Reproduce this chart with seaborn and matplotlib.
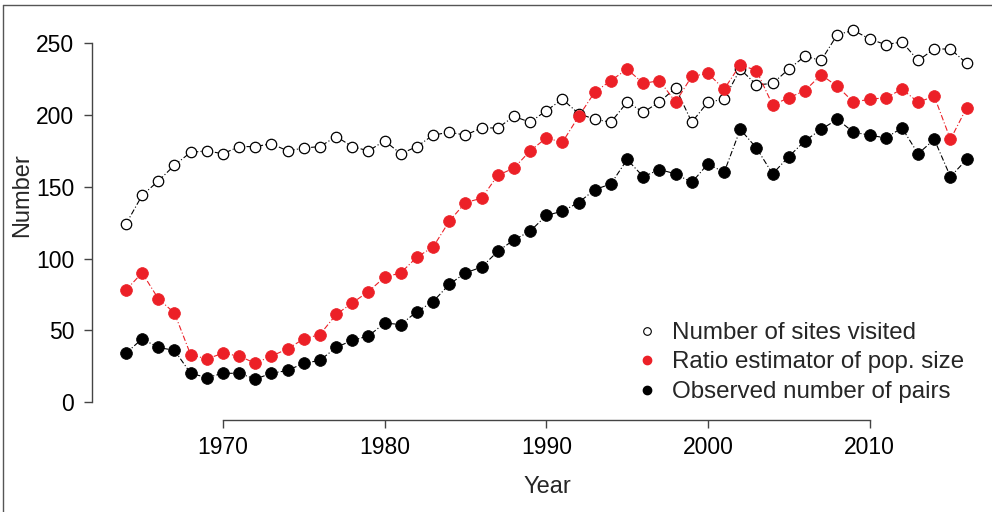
import matplotlib
matplotlib.use('Agg')
import matplotlib.pyplot as plt
import seaborn as sns
from matplotlib.lines import Line2D

years = list(range(1964, 2017))
sites_visited = [124, 144, 154, 165, 174, 175, 173, 178, 178, 180,
                 175, 177, 178, 185, 178, 175, 182, 173, 178, 186,
                 188, 186, 191, 191, 199, 195, 203, 211, 201, 197,
                 195, 209, 202, 209, 219, 195, 209, 211, 232, 221,
                 222, 232, 241, 238, 256, 259, 253, 249, 251, 238,
                 246, 246, 236]
ratio_estimator = [78, 90, 72, 62, 33, 30, 34, 32, 27, 32,
                   37, 44, 47, 61, 69, 77, 87, 90, 101, 108,
                   126, 139, 142, 158, 163, 175, 184, 181, 199, 216,
                   224, 232, 222, 224, 209, 227, 229, 218, 235, 231,
                   207, 212, 217, 228, 220, 209, 211, 212, 218, 209,
                   213, 183, 205]
observed_pairs = [34, 44, 38, 36, 20, 17, 20, 20, 16, 20,
                  22, 27, 29, 38, 43, 46, 55, 54, 63, 70,
                  82, 90, 94, 105, 113, 119, 130, 133, 139, 148,
                  152, 169, 157, 162, 159, 153, 166, 160, 190, 177,
                  159, 171, 182, 190, 197, 188, 186, 184, 191, 173,
                  183, 157, 169]
legend_labels = ['Number of sites visited', 'Ratio estimator of pop. size',
                 'Observed number of pairs']
x_ticks = [1970, 1980, 1990, 2000, 2010]
y_ticks = [0, 50, 100, 150, 200, 250]

RED = '#EC2027'

sns.set_style('ticks')
plt.rcParams['font.family'] = ['Liberation Sans', 'DejaVu Sans']

W, H = 992, 512
fig = plt.figure(figsize=(W / 100, H / 100), dpi=100)
ax = fig.add_axes([92 / W, (H - 420) / H, (W - 92) / W, (420 - 15) / H])

dash = (0, (5, 2, 1, 2))
sns.lineplot(x=years, y=sites_visited, ax=ax, color='black', linestyle=dash,
             linewidth=0.8, marker='o', markersize=7.5, markerfacecolor='white',
             markeredgecolor='black', markeredgewidth=0.9, zorder=2)
sns.lineplot(x=years, y=ratio_estimator, ax=ax, color=RED, linestyle=dash,
             linewidth=0.8, marker='o', markersize=8.5, markerfacecolor=RED,
             markeredgecolor=RED, markeredgewidth=0.5, zorder=3)
sns.lineplot(x=years, y=observed_pairs, ax=ax, color='black', linestyle=dash,
             linewidth=0.8, marker='o', markersize=8.5, markerfacecolor='black',
             markeredgecolor='black', markeredgewidth=0.5, zorder=4)

ax.set_xlim(1961.9, 2017.57)
ax.set_ylim(-12.55, 269.7)
ax.set_xticks(x_ticks)
ax.set_yticks(y_ticks)
ax.set_xlabel('')
ax.set_ylabel('')
sns.despine(ax=ax)
for s in ['left', 'bottom']:
    ax.spines[s].set_color('#444444')
    ax.spines[s].set_linewidth(1.0)
ax.spines['left'].set_bounds(0, 250)
ax.spines['bottom'].set_bounds(1970, 2010)
ax.tick_params(axis='both', length=5.8, width=1.0, color='#444444',
               labelsize=16.5, labelcolor='black')
ax.tick_params(axis='x', pad=6)
ax.tick_params(axis='y', pad=7)

fig.text(547 / W, 1 - 487 / H, 'Year', fontsize=17, ha='center', va='center')
fig.text(22 / W, 1 - 195 / H, 'Number', fontsize=17, ha='center', va='center',
         rotation=90)

handles = [
    Line2D([], [], linestyle='none', marker='o', markersize=5.5,
           markerfacecolor='white', markeredgecolor='black', markeredgewidth=0.8),
    Line2D([], [], linestyle='none', marker='o', markersize=6,
           markerfacecolor=RED, markeredgecolor=RED),
    Line2D([], [], linestyle='none', marker='o', markersize=6,
           markerfacecolor='black', markeredgecolor='black'),
]
ax.legend(handles, legend_labels, loc='upper left',
          bbox_to_anchor=(635 / W, 1 - 322 / H), bbox_transform=fig.transFigure,
          frameon=False, fontsize=17.4, borderpad=0, borderaxespad=0,
          handlelength=1.0, handletextpad=0.55, labelspacing=0.31)

fig.add_artist(Line2D([3 / W, 3 / W], [0, 1 - 5 / H], transform=fig.transFigure,
                      color='#555555', linewidth=1.0))
fig.add_artist(Line2D([3 / W, 1], [1 - 5 / H, 1 - 5 / H], transform=fig.transFigure,
                      color='#555555', linewidth=1.0))

fig.savefig('out.png', dpi=100)
